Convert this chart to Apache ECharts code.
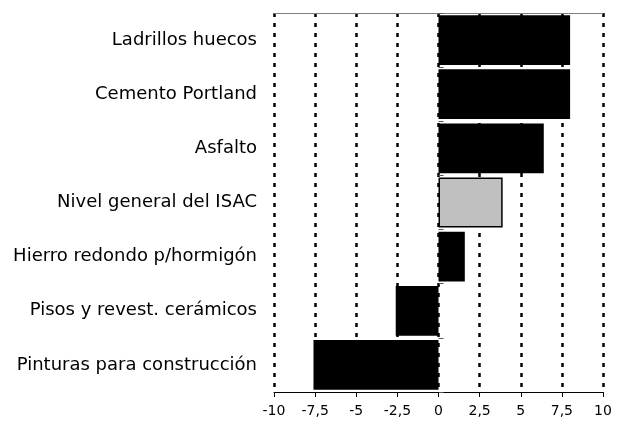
<!DOCTYPE html>
<html>
<head>
<meta charset="utf-8">
<script src="https://cdn.jsdelivr.net/npm/echarts@6/dist/echarts.min.js"></script>
<style>html,body{margin:0;padding:0;background:#fff;}#c{width:623px;height:425px;}</style>
</head>
<body>
<div id="c"></div>
<script>
const categories = ["Ladrillos huecos","Cemento Portland","Asfalto","Nivel general del ISAC","Hierro redondo p/hormigón","Pisos y revest. cerámicos","Pinturas para construcción"];
const values = [8.0, 8.0, 6.4, 3.9, 1.6, -2.6, -7.6];
const highlight = "Nivel general del ISAC";
const xMin = -10, xMax = 10, xStep = 2.5;

const chart = echarts.init(document.getElementById('c'), null, {renderer:'canvas'});
const font = 'DejaVu Sans';
chart.setOption({
  animation: false,
  backgroundColor: '#fff',
  grid: {left: 274, right: 20, top: 13, bottom: 33, containLabel: false},
  xAxis: [{
    type: 'value', min: xMin, max: xMax, interval: xStep, position: 'bottom',
    axisLine: {show: true, onZero: false, lineStyle: {color: '#000', width: 1}},
    axisTick: {show: true, length: 5, lineStyle: {color: '#000', width: 1}},
    axisLabel: {color: '#000', fontFamily: font, fontSize: 14, margin: 12,
      formatter: v => String(v).replace('.', ',')},
    splitLine: {show: true, lineStyle: {color: '#000', width: 2.5, type: [4, 6]}}
  }, {
    type: 'value', min: xMin, max: xMax, interval: xStep, position: 'top',
    axisLine: {show: true, onZero: false, lineStyle: {color: '#808080', width: 1}},
    axisTick: {show: false}, axisLabel: {show: false}, splitLine: {show: false}
  }],
  yAxis: [{
    type: 'category', data: categories, inverse: true, position: 'left',
    axisLine: {show: false, onZero: false},
    axisTick: {show: false},
    axisLabel: {color: '#000', fontFamily: font, fontSize: 18, margin: 17}
  }, {
    type: 'category', data: categories, inverse: true, position: 'left',
    axisLine: {show: false, onZero: true},
    axisTick: {show: true, inside: true, length: 5, lineStyle: {color: '#555', width: 1}},
    axisLabel: {show: false}
  }],
  series: [{
    type: 'bar', xAxisIndex: 0, yAxisIndex: 0,
    barCategoryGap: '8%',
    data: values.map((v, i) => categories[i] === highlight
      ? {value: v, itemStyle: {color: '#c0c0c0', borderColor: '#000', borderWidth: 1.5}}
      : {value: v, itemStyle: {color: '#000'}})
  }]
});
</script>
</body>
</html>
